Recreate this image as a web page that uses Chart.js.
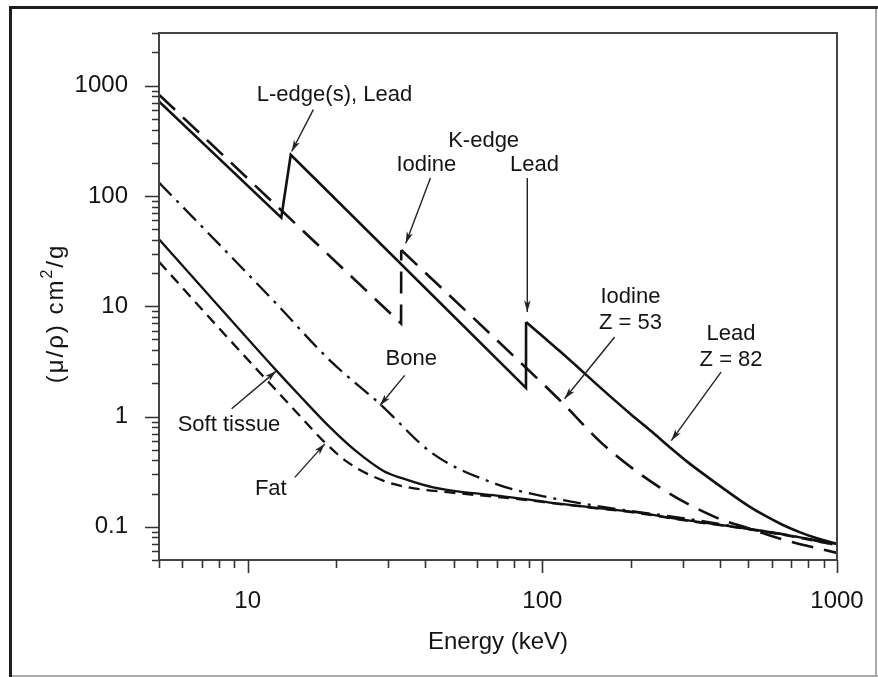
<!DOCTYPE html>
<html><head><meta charset="utf-8">
<script src="https://cdn.jsdelivr.net/npm/chart.js@4"></script>
<style>html,body{margin:0;padding:0;background:#fff;}canvas{display:block}</style>
</head><body>
<canvas id="c" width="878" height="677"></canvas>
<script>
// ---- axis tick labels ----
const xTickLabels = [10, 100, 1000];
const yTickLabels = [0.1, 1, 10, 100, 1000];

// ---- series (energy in keV, mass attenuation coefficient in cm2/g) ----
const leadEnergy = [5, 13.0, 14.0, 88.0, 88.05, 100, 114, 130, 150, 173, 200, 235, 270, 310, 350, 420, 500, 570, 650, 750, 850, 1000];
const leadMu     = [720, 63.5, 236, 1.82, 7.2, 5.36, 3.97, 2.9, 2.05, 1.46, 1.045, 0.73, 0.53, 0.39, 0.305, 0.214, 0.155, 0.126, 0.105, 0.089, 0.079, 0.07];
const leadEdgeIndex = 4;   // first point above the K-edge

const iodineEnergy = [5, 33.15, 33.2, 97.7, 118, 160, 250, 388, 500, 653, 1000];
const iodineMu     = [828, 6.97, 32.3, 2.12, 1.3, 0.565, 0.228, 0.1216, 0.097, 0.077, 0.058];
const iodineEdgeIndex = 2; // first point above the K-edge

const boneEnergy = [5, 8.05, 12.2, 19, 28.1, 42.6, 69.8, 100, 150, 200, 300, 500, 700, 1000];
const boneMu     = [132, 35.8, 11.3, 3.23, 1.30, 0.458, 0.244, 0.19, 0.156, 0.139, 0.12, 0.096, 0.083, 0.068];

const softEnergy = [5, 8, 12.5, 15, 19, 23, 28.8, 35, 42.6, 55, 71.6, 106, 150, 200, 300, 500, 650, 1000];
const softMu     = [40.4, 9.9, 2.62, 1.55, 0.80, 0.50, 0.323, 0.265, 0.228, 0.205, 0.191, 0.166, 0.149, 0.137, 0.116, 0.096, 0.086, 0.070];

const fatEnergy = [5, 8, 12.2, 15, 18, 22, 28.8, 35, 48.5, 80, 100, 150, 200, 300, 500, 700, 1000];
const fatMu     = [25.3, 6.3, 1.85, 1.02, 0.605, 0.38, 0.262, 0.228, 0.205, 0.18, 0.168, 0.148, 0.136, 0.115, 0.095, 0.082, 0.068];

// ---- annotation texts, placed in data coordinates (keV, cm2/g) ----
const labelTexts = ['L-edge(s), Lead', 'K-edge', 'Iodine', 'Lead', 'Iodine', 'Z = 53', 'Lead', 'Z = 82', 'Bone', 'Soft tissue', 'Fat'];
const labelAt = [[19.7, 828], [63.2, 316], [40.4, 189], [94.1, 191], [199, 12.1], [199, 7.11], [437, 5.65], [437, 3.23], [35.9, 3.35], [8.64, 0.84], [11.98, 0.22]];
const arrowsAt = [
  [[16.7, 605], [14.1, 253]],
  [[41.7, 145], [34.4, 37.2]],
  [[88.9, 145], [88.9, 8.88]],
  [[176, 5.26], [119, 1.45]],
  [[404, 2.53], [274, 0.605]],
  [[34.1, 2.36], [28.1, 1.26]],
  [[8.82, 1.175], [12.5, 2.58]],
  [[14.45, 0.2807], [18.27, 0.565]]
];

const FONT = '"Liberation Sans", Arial, Helvetica, sans-serif';
const INK = '#141414';

function pairs(xs, ys) { return xs.map((x, i) => ({x: x, y: ys[i]})); }
function isPow10(v) { const l = Math.log10(v); return Math.abs(l - Math.round(l)) < 1e-9; }
function logTicks(min, max) {
  const out = [];
  for (let d = Math.floor(Math.log10(min)); d <= Math.ceil(Math.log10(max)); d++) {
    for (let s = 1; s <= 9; s++) {
      const v = parseFloat((s * Math.pow(10, d)).toPrecision(6));
      if (v >= min - 1e-12 && v <= max + 1e-9) out.push({value: v});
    }
  }
  return out;
}
function noPad(s) { s.paddingTop = 0; s.paddingBottom = 0; s.paddingLeft = 0; s.paddingRight = 0; }

const framePlugin = {
  id: 'frame',
  beforeDraw(chart) {
    const ctx = chart.ctx;
    ctx.save();
    ctx.fillStyle = '#fff';
    ctx.fillRect(0, 0, chart.width, chart.height);
    ctx.restore();
  },
  afterDraw(chart) {
    const ctx = chart.ctx, ca = chart.chartArea;
    const xs = chart.scales.x, ys = chart.scales.y;
    ctx.save();
    // plot box
    ctx.strokeStyle = '#444';
    ctx.lineWidth = 2;
    ctx.strokeRect(ca.left, ca.top, ca.right - ca.left, ca.bottom - ca.top);
    // tick marks
    ctx.strokeStyle = '#333';
    ctx.lineWidth = 1.6;
    ctx.beginPath();
    xs.ticks.forEach(t => {
      const p = Math.round(xs.getPixelForValue(t.value)) + 0.5;
      const len = isPow10(t.value) ? 13 : 8;
      ctx.moveTo(p, ca.bottom); ctx.lineTo(p, ca.bottom + len);
    });
    ys.ticks.forEach(t => {
      const p = Math.round(ys.getPixelForValue(t.value)) + 0.5;
      const len = isPow10(t.value) ? 14 : 7;
      ctx.moveTo(ca.left, p); ctx.lineTo(ca.left - len, p);
    });
    ctx.stroke();

    // annotations
    ctx.fillStyle = INK;
    ctx.font = '22px ' + FONT;
    ctx.textAlign = 'center';
    ctx.textBaseline = 'middle';
    labelTexts.forEach((t, i) => {
      ctx.fillText(t, xs.getPixelForValue(labelAt[i][0]), ys.getPixelForValue(labelAt[i][1]));
    });
    ctx.strokeStyle = '#222';
    ctx.lineWidth = 1.4;
    arrowsAt.forEach(a => {
      const x1 = xs.getPixelForValue(a[0][0]), y1 = ys.getPixelForValue(a[0][1]);
      const x2 = xs.getPixelForValue(a[1][0]), y2 = ys.getPixelForValue(a[1][1]);
      const ang = Math.atan2(y2 - y1, x2 - x1);
      ctx.beginPath();
      ctx.moveTo(x1, y1); ctx.lineTo(x2, y2);
      ctx.stroke();
      const L = 12, w = 0.28;
      ctx.beginPath();
      ctx.moveTo(x2, y2);
      ctx.lineTo(x2 - L * Math.cos(ang - w), y2 - L * Math.sin(ang - w));
      ctx.lineTo(x2 - 0.7 * L * Math.cos(ang), y2 - 0.7 * L * Math.sin(ang));
      ctx.lineTo(x2 - L * Math.cos(ang + w), y2 - L * Math.sin(ang + w));
      ctx.closePath();
      ctx.fillStyle = '#222';
      ctx.fill();
    });

    // y axis title
    ctx.save();
    ctx.translate(56, (ca.top + ca.bottom) / 2 + 17);
    ctx.rotate(-Math.PI / 2);
    ctx.fillStyle = INK;
    ctx.textAlign = 'left';
    ctx.textBaseline = 'middle';
    if ('letterSpacing' in ctx) ctx.letterSpacing = '2px';
    const p1 = '(\u03bc/\u03c1) cm', p2 = '2', p3 = '/g';
    ctx.font = '24px ' + FONT;
    const w1 = ctx.measureText(p1).width;
    ctx.font = '16px ' + FONT;
    const w2 = ctx.measureText(p2).width;
    ctx.font = '24px ' + FONT;
    const w3 = ctx.measureText(p3).width;
    const x0 = -(w1 + w2 + w3) / 2;
    ctx.fillText(p1, x0, 0);
    ctx.font = '16px ' + FONT;
    ctx.fillText(p2, x0 + w1, -8);
    ctx.font = '24px ' + FONT;
    ctx.fillText(p3, x0 + w1 + w2, 0);
    ctx.restore();

    // outer picture frame
    ctx.fillStyle = '#1e1e1e';
    ctx.fillRect(9, 6, chart.width - 9, 3);
    ctx.fillRect(9, 6, 3, chart.height - 6);
    ctx.fillStyle = '#a8a8a8';
    ctx.fillRect(12, chart.height - 2, chart.width - 12, 2);
    ctx.fillRect(chart.width - 3, 9, 2, chart.height - 9);
    ctx.restore();
  }
};

const ds = (label, xs, ys, dash, width, smooth) => ({
  label: label,
  data: pairs(xs, ys),
  borderColor: '#111',
  borderWidth: width,
  borderDash: dash,
  pointRadius: 0,
  fill: false,
  tension: 0,
  cubicInterpolationMode: smooth ? 'monotone' : 'default'
});

new Chart(document.getElementById('c'), {
  type: 'line',
  data: {
    datasets: [
      ds('Lead', leadEnergy.slice(0, leadEdgeIndex + 1), leadMu.slice(0, leadEdgeIndex + 1), [], 2.6, false),
      ds('Lead', leadEnergy.slice(leadEdgeIndex), leadMu.slice(leadEdgeIndex), [], 2.6, true),
      ds('Iodine', iodineEnergy.slice(0, iodineEdgeIndex + 1), iodineMu.slice(0, iodineEdgeIndex + 1), [22, 11], 2.6, false),
      ds('Iodine', iodineEnergy.slice(iodineEdgeIndex), iodineMu.slice(iodineEdgeIndex), [22, 11], 2.6, true),
      ds('Bone', boneEnergy, boneMu, [18, 7, 3, 7], 2.3, true),
      ds('Soft tissue', softEnergy, softMu, [], 2.3, true),
      ds('Fat', fatEnergy, fatMu, [11, 7], 2.3, true)
    ]
  },
  options: {
    responsive: false,
    animation: false,
    layout: {padding: {left: 0, right: 41, top: 33, bottom: 0}},
    plugins: {legend: {display: false}, tooltip: {enabled: false}},
    scales: {
      x: {
        type: 'logarithmic', min: 5, max: 1000,
        grid: {display: false, drawTicks: false},
        border: {display: false},
        ticks: {
          autoSkip: false, maxRotation: 0, padding: 27, color: INK,
          font: {family: FONT, size: 24},
          callback: v => xTickLabels.includes(v) ? String(v) : ''
        },
        afterBuildTicks: s => { s.ticks = logTicks(5, 1000); },
        afterFit: s => { s.height = 117; noPad(s); },
        title: {display: true, text: 'Energy (keV)', color: INK, font: {family: FONT, size: 24}, padding: {top: 0, bottom: 20}}
      },
      y: {
        type: 'logarithmic', min: 0.05, max: 3000,
        grid: {display: false, drawTicks: false},
        border: {display: false},
        ticks: {
          autoSkip: false, padding: 31, color: INK,
          font: {family: FONT, size: 24},
          callback: v => yTickLabels.includes(v) ? String(v) : ''
        },
        afterBuildTicks: s => { s.ticks = logTicks(0.05, 3000); },
        afterFit: s => { s.width = 159; noPad(s); }
      }
    }
  },
  plugins: [framePlugin]
});
</script>
</body></html>
